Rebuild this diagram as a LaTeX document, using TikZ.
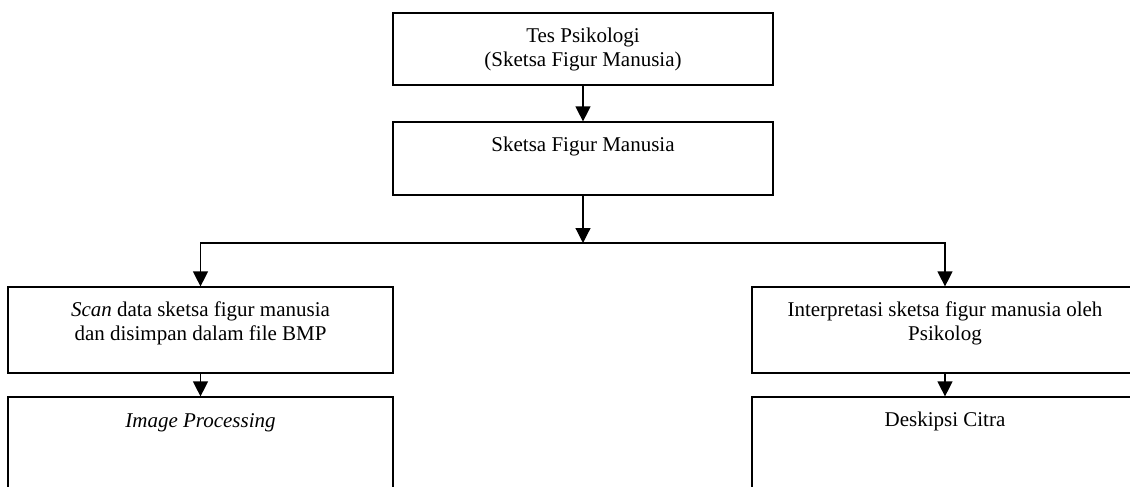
\documentclass[tikz,border=0pt]{standalone}
\usepackage{fontspec}
\setmainfont{Liberation Serif}
\usetikzlibrary{arrows.meta}
\begin{document}
\begin{tikzpicture}[x=1pt,y=-1pt,
  box/.style={draw, line width=1.2pt, inner sep=0pt, minimum width=#1},
  txt/.style={anchor=center, align=center, inner sep=0pt, font=\fontsize{21}{24}\selectfont},
  conn/.style={line width=1.2pt, -{Triangle[length=15pt,width=15pt]}}]
\useasboundingbox (0,0) rectangle (1130,487);
\clip (0,0) rectangle (1130,487);
\fill[white] (0,0) rectangle (1130,487);
\node[box=380pt, minimum height=72pt, label={[txt,yshift=-37pt]north:{Tes Psikologi\\(Sketsa Figur Manusia)}}] (tes) at (583,49) {};
\node[box=380pt, minimum height=73pt, label={[txt,yshift=-25pt]north:{Sketsa Figur Manusia}}] (sketsa) at (583,158.5) {};
\node[box=385pt, minimum height=86pt, label={[txt,yshift=-37pt]north:{\textit{Scan} data sketsa figur manusia\\dan disimpan dalam file BMP}}] (scan) at (200.5,330) {};
\node[box=386pt, minimum height=86pt, label={[txt,yshift=-37pt]north:{Interpretasi sketsa figur manusia oleh\\Psikolog}}] (interp) at (945,330) {};
\node[box=385pt, minimum height=130pt, label={[txt,yshift=-26pt]north:{\textit{Image Processing}}}] (imgproc) at (200.5,462) {};
\node[box=386pt, minimum height=130pt, label={[txt,yshift=-25pt]north:{Deskipsi Citra}}] (desk) at (945,462) {};
\coordinate (junc) at (583,243);
\draw[conn] (tes) -- (sketsa);
\draw[conn] (sketsa) -- (junc);
\draw[conn] (junc) -| (scan.north);
\draw[conn] (junc) -| (interp.north);
\draw[conn] (scan) -- (imgproc);
\draw[conn] (interp) -- (desk);
\end{tikzpicture}
\end{document}
